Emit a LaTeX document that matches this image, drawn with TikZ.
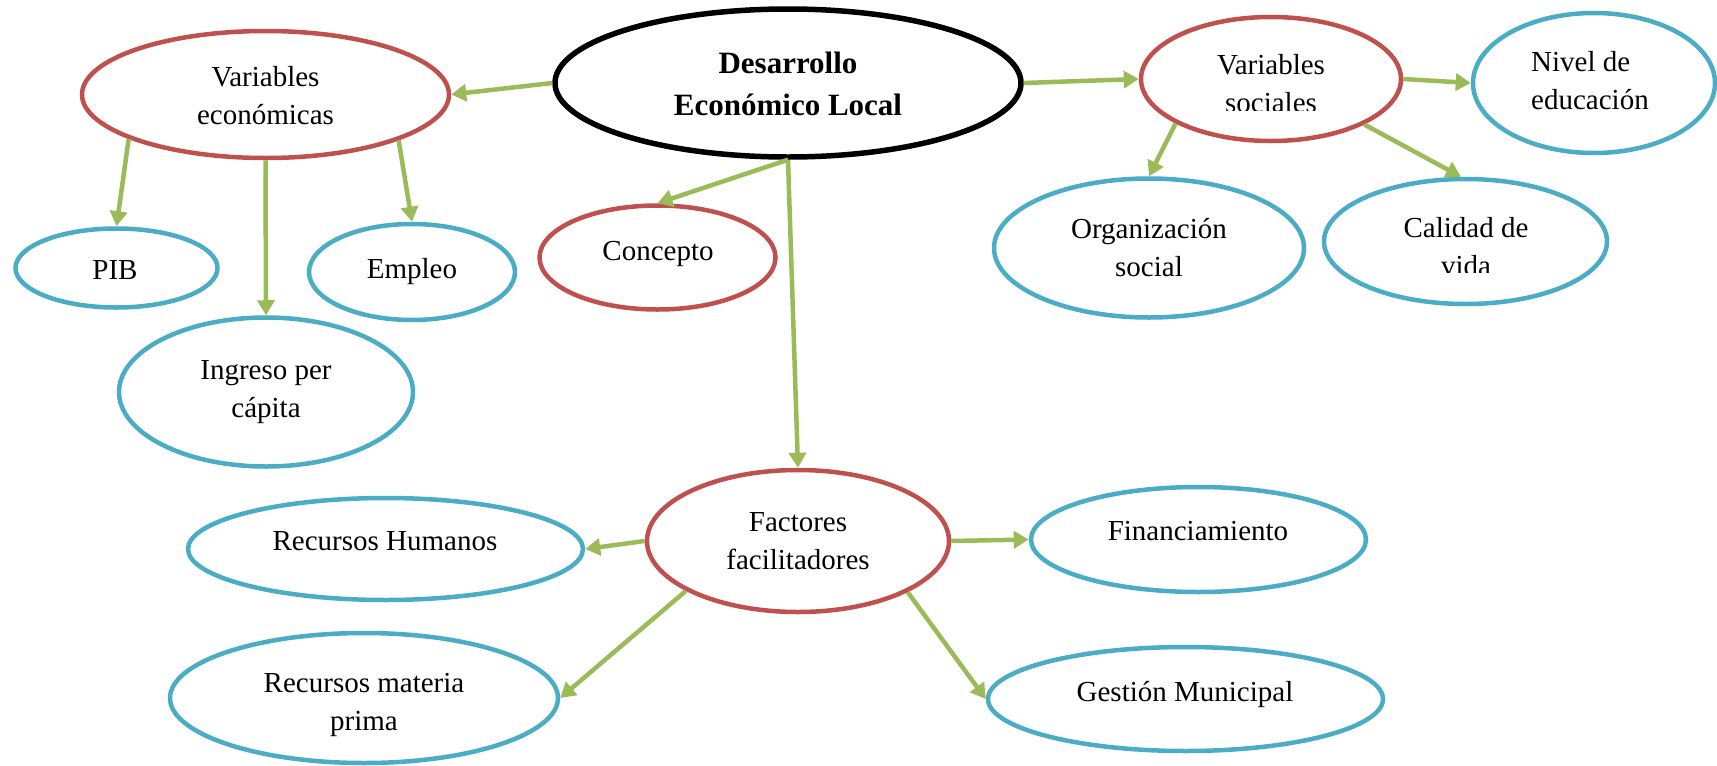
\documentclass[tikz,border=0pt]{standalone}
\usepackage{fontspec}
\setmainfont{Liberation Serif}
\usetikzlibrary{shapes.geometric,arrows.meta}
\definecolor{ered}{HTML}{C0504D}
\definecolor{eblue}{HTML}{4BACC6}
\definecolor{egreen}{HTML}{9BBB59}
\begin{document}
\begin{tikzpicture}[x=1pt,y=-1pt,
  sz/.style 2 args={minimum width=#1pt, minimum height=#2pt},
  ell/.style={ellipse, inner sep=0pt, line width=4.5pt},
  redell/.style={ell, draw=ered},
  blueell/.style={ell, draw=eblue},
  mainell/.style={ellipse, draw=black, line width=5.5pt, inner sep=0pt},
  txt/.style={inner sep=0pt, align=center, font=\fontsize{29}{38}\selectfont},
  btxt/.style={inner sep=0pt, align=center, font=\fontsize{31}{42}\selectfont\bfseries},
  conn/.style={draw=egreen, line width=4.5pt, -{Triangle[length=15pt,width=17pt]}}
]
\useasboundingbox (0,0) rectangle (1717,766);

% ellipses
\node[mainell, sz={466}{148}] (D) at (788,83) {};
\node[redell, sz={367}{127}] (VE) at (265.5,94.5) {};
\node[redell, sz={260}{124}] (VS) at (1271,79) {};
\node[blueell, sz={242}{140}] (NE) at (1594,83) {};
\node[blueell, sz={202}{79}] (PIB) at (116.5,268) {};
\node[blueell, sz={206}{96}] (EMP) at (412,272) {};
\node[blueell, sz={294}{149}] (ING) at (266,392) {};
\node[redell, sz={236}{104}] (CON) at (657.5,257.5) {};
\node[blueell, sz={310}{139}] (ORG) at (1149,248) {};
\node[blueell, sz={283}{125}] (CAL) at (1465.5,241.5) {};
\node[redell, sz={302}{142}] (F) at (798,541) {};
\node[blueell, sz={395}{102}] (RH) at (385.5,549) {};
\node[blueell, sz={335}{105}] (FIN) at (1198.5,539.5) {};
\node[blueell, sz={388}{130}] (RMP) at (364,698) {};
\node[blueell, sz={395}{104}] (GM) at (1185.5,699) {};

% texts
\node[btxt] (tD) at (788,83.5) {Desarrollo\\Económico Local};
\node[txt] (tVE) at (265.5,95.5) {Variables\\económicas};
\begin{scope}
  \clip (1150,30) rectangle (1395,110);
  \node[txt] (tVS) at (1271,84) {Variables\\sociales};
\end{scope}
\node[txt, align=left, anchor=west] (tNE) at (1531,81) {Nivel de\\educación};
\node[txt, anchor=base] (tPIB) at (115,279) {PIB};
\node[txt, anchor=base] (tEMP) at (412,278) {Empleo};
\node[txt] (tING) at (266,392.5) {Ingreso per\\cápita};
\node[txt, anchor=base] (tCON) at (658,260.5) {Concepto};
\node[txt] (tORG) at (1149,247.5) {Organización\\social};
\begin{scope}
  \clip (1330,190) rectangle (1600,272);
  \node[txt] (tCAL) at (1466,246.5) {Calidad de\\vida};
\end{scope}
\node[txt] (tF) at (798,541) {Factores\\facilitadores};
\node[txt, anchor=base] (tRH) at (385,550) {Recursos Humanos};
\node[txt, anchor=base] (tFIN) at (1198,540) {Financiamiento};
\node[txt] (tRMP) at (364,704.5) {Recursos materia\\prima};
\node[txt, anchor=base] (tGM) at (1185,701) {Gestión Municipal};

% connectors
\draw[conn] (D.west) -- (VE.east);
\draw[conn] (D.east) -- (VS.west);
\draw[conn] (VS.east) -- (NE.west);
\draw[conn] (VS.205.8) -- (ORG.north);
\draw[conn] (VS.334.2) -- (CAL.94);
\draw[conn] (VE.198.9) -- (PIB.north);
\draw[conn] (VE.south) -- (ING.north);
\draw[conn] (VE.341.2) -- (EMP.north);
\draw[conn] (D.south) -- (CON.north);
\draw[conn] (D.south) -- (F.north);
\draw[conn] (F.west) -- (RH.east);
\draw[conn] (F.east) -- (FIN.west);
\draw[conn] (F.204.2) -- (RMP.east);
\draw[conn] (F.335.4) -- (GM.west);
\end{tikzpicture}
\end{document}
